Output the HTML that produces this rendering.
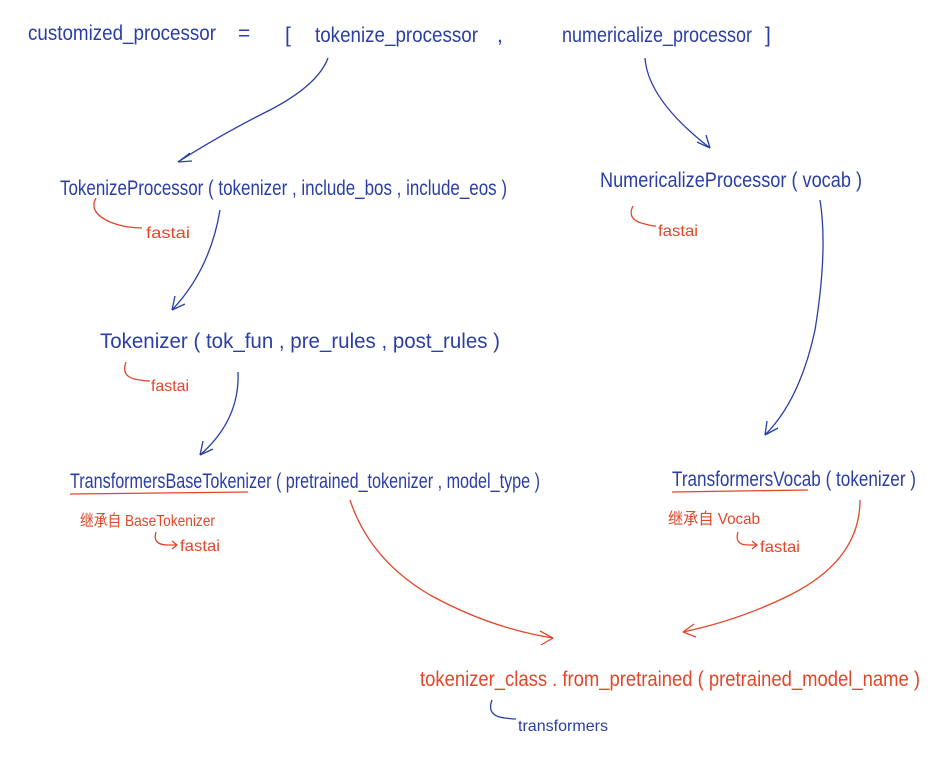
<!DOCTYPE html>
<html><head><meta charset="utf-8"><style>
html,body{margin:0;padding:0;background:#fff;}
svg{display:block}
text{font-family:"Liberation Sans","Noto Sans CJK SC",sans-serif;}
.b{fill:#2b3ea6;font-size:21px}
.r{fill:#e2472a;font-size:21px}
.rs{fill:#e2472a;font-size:16px}
.bs{fill:#2b3ea6;font-size:16px}
.lb{stroke:#2b3ea6;fill:none;stroke-width:1.3}
.lr{stroke:#e2472a;fill:none;stroke-width:1.3}
</style></head><body>
<svg width="942" height="778" viewBox="0 0 942 778" xmlns="http://www.w3.org/2000/svg">
<!-- line 1 -->
<text class="b" x="28" y="40" textLength="188" lengthAdjust="spacingAndGlyphs">customized_processor</text>
<text class="b" x="238" y="40">=</text>
<text class="b" x="285" y="42">[</text>
<text class="b" x="315" y="42" textLength="163" lengthAdjust="spacingAndGlyphs">tokenize_processor</text>
<text class="b" x="497" y="42">,</text>
<text class="b" x="562" y="42" textLength="190" lengthAdjust="spacingAndGlyphs">numericalize_processor</text>
<text class="b" x="765" y="42">]</text>

<!-- TokenizeProcessor -->
<text class="b" x="60" y="195" textLength="447" lengthAdjust="spacingAndGlyphs">TokenizeProcessor ( tokenizer , include_bos , include_eos )</text>
<path class="lr" d="M96 198 Q88 212 110 222 Q125 228 142 228"/>
<text class="rs" x="146" y="238" textLength="44" lengthAdjust="spacingAndGlyphs">fastai</text>

<!-- NumericalizeProcessor -->
<text class="b" x="600" y="187" textLength="262" lengthAdjust="spacingAndGlyphs">NumericalizeProcessor ( vocab )</text>
<path class="lr" d="M633 206 Q626 220 645 224 Q652 226 656 226"/>
<text class="rs" x="658" y="236" textLength="40" lengthAdjust="spacingAndGlyphs">fastai</text>

<!-- Tokenizer -->
<text class="b" x="100" y="348" textLength="400" lengthAdjust="spacingAndGlyphs">Tokenizer ( tok_fun , pre_rules , post_rules )</text>
<path class="lr" d="M126 362 Q120 378 140 380 Q146 381 150 381"/>
<text class="rs" x="151" y="391" textLength="38" lengthAdjust="spacingAndGlyphs">fastai</text>

<!-- TransformersBaseTokenizer -->
<text class="b" x="70" y="488" textLength="470" lengthAdjust="spacingAndGlyphs">TransformersBaseTokenizer ( pretrained_tokenizer , model_type )</text>
<path class="lr" d="M70 494 L248 492"/>
<text class="rs" x="80" y="526" textLength="135" lengthAdjust="spacingAndGlyphs">继承自 BaseTokenizer</text>
<path class="lr" d="M156 532 Q152 545 168 545 L176 545 M172 541 L177 545 L172 549"/>
<text class="rs" x="180" y="551" textLength="40" lengthAdjust="spacingAndGlyphs">fastai</text>

<!-- TransformersVocab -->
<text class="b" x="672" y="486" textLength="244" lengthAdjust="spacingAndGlyphs">TransformersVocab ( tokenizer )</text>
<path class="lr" d="M672 492 L808 490"/>
<text class="rs" x="668" y="524" textLength="92" lengthAdjust="spacingAndGlyphs">继承自 Vocab</text>
<path class="lr" d="M738 532 Q734 545 748 545 L756 545 M752 541 L757 545 L752 549"/>
<text class="rs" x="760" y="552" textLength="40" lengthAdjust="spacingAndGlyphs">fastai</text>

<!-- tokenizer_class -->
<text class="r" x="420" y="686" textLength="500" lengthAdjust="spacingAndGlyphs">tokenizer_class . from_pretrained ( pretrained_model_name )</text>
<path class="lb" d="M492 700 Q486 716 505 718 Q512 719 516 719"/>
<text class="bs" x="518" y="731" textLength="90" lengthAdjust="spacingAndGlyphs">transformers</text>

<!-- arrows -->
<path class="lb" d="M328 58 Q318 85 270 110 Q220 135 178 162"/>
<path class="lb" d="M178 162 L190 153 M178 162 L192 161"/>
<path class="lb" d="M645 58 Q648 100 710 148"/>
<path class="lb" d="M710 148 L697 142 M710 148 L706 135"/>
<path class="lb" d="M220 210 Q210 270 172 310"/>
<path class="lb" d="M172 310 L175 296 M172 310 L185 304"/>
<path class="lb" d="M820 200 Q828 250 815 330 Q800 400 765 435"/>
<path class="lb" d="M765 435 L767 421 M765 435 L778 428"/>
<path class="lb" d="M238 372 Q240 420 200 455"/>
<path class="lb" d="M200 455 L203 441 M200 455 L213 449"/>
<path class="lr" d="M350 500 Q370 560 430 595 Q490 628 553 638"/>
<path class="lr" d="M553 638 L540 631 M553 638 L541 645"/>
<path class="lr" d="M860 500 Q860 560 790 595 Q740 620 683 632"/>
<path class="lr" d="M683 632 L694 624 M683 632 L696 637"/>
</svg>
</body></html>
